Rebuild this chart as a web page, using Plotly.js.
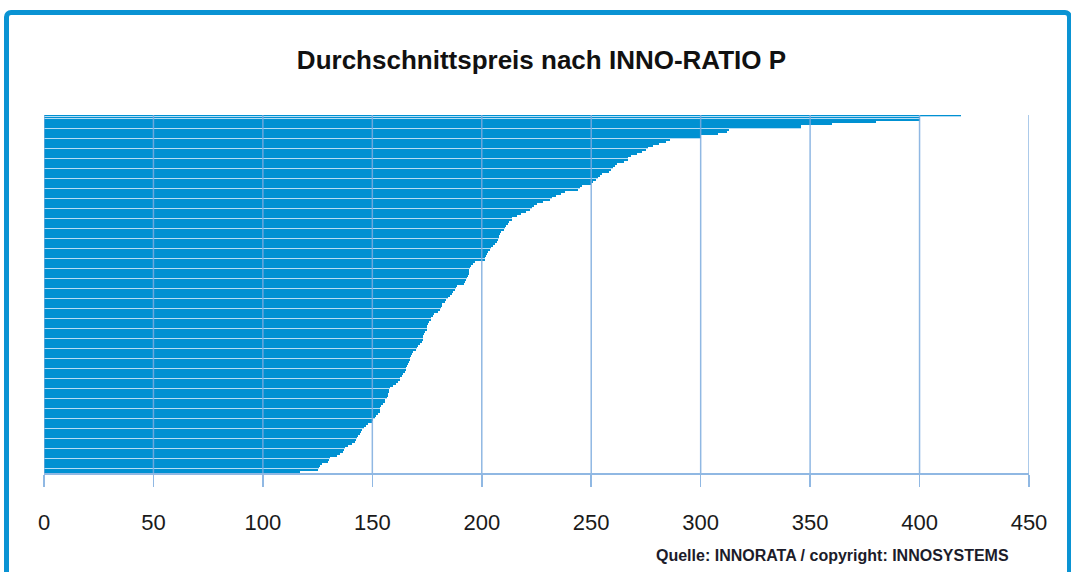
<!DOCTYPE html>
<html>
<head>
<meta charset="utf-8">
<script src="https://cdn.plot.ly/plotly-3.0.1.min.js"></script>
<style>
  html, body { margin: 0; padding: 0; background: #ffffff; overflow: hidden; }
  #chart { width: 1071px; height: 572px; position: absolute; left: 0; top: 0; }
  #frame { position: absolute; left: 4px; top: 10px; width: 1068px; height: 700px;
           box-sizing: border-box; border: 5px solid #0a93d3; border-radius: 7px;
           pointer-events: none; }
</style>
</head>
<body>
<div id="chart"></div>
<div id="frame"></div>
<script>
// Average price per product, sorted by INNO-RATIO P (top to bottom)
const prices = [
  419, 400, 400, 380, 360, 346, 346,
  313, 312, 308, 300, 300,
  286, 284, 281, 278, 276,
  275, 273, 271, 268, 267,
  267, 265, 262, 261, 260,
  259, 258, 255, 254, 253,
  252, 251, 250, 246, 245,
  244, 238, 236, 234, 232,
  231, 228, 225, 224, 223,
  222, 220, 218, 216, 214,
  213.6, 212.6, 212, 211, 210.6,
  210, 209, 208.5, 208, 207.8,
  207.5, 206.8, 206, 205, 204,
  203.7, 203, 202.5, 202, 201.6,
  201.5, 197, 196, 195, 194.5,
  194.3, 194, 194, 193.8, 193.2,
  193, 192.5, 192, 188.5, 188,
  187.8, 187, 186.5, 185.5, 184.5,
  183.5, 183, 182, 181.7, 181.5,
  181, 180, 178, 177.6, 177,
  176.6, 176, 175.5, 175, 174.8,
  174.8, 174, 173.5, 173, 173,
  173, 172.5, 171.8, 171, 170.5,
  170, 168.4, 168, 167.5, 167,
  167, 166.8, 166.5, 165.7, 165.5,
  165.4, 165, 164, 163.5, 162.6,
  162.5, 161.8, 161, 159.6, 158,
  157.8, 157.6, 157, 157, 156.5,
  156, 155.8, 155, 154, 153.5,
  153.5, 153.3, 152.7, 151.7, 151,
  150.5, 149.7, 148.2, 147, 146,
  145.5, 145, 144.4, 143.6, 143,
  142.5, 142, 140.6, 139, 137.5,
  137, 136.7, 135, 133.7, 130.6,
  130, 129.8, 126.8, 126, 125.5,
  125, 117
];
const ranks = prices.map((v, i) => 'Rang ' + (i + 1));
const tickValues = [0, 50, 100, 150, 200, 250, 300, 350, 400, 450];
const titleText = 'Durchschnittspreis nach INNO-RATIO P';
const sourceText = 'Quelle: INNORATA / copyright: INNOSYSTEMS';

const barColor = 'rgb(0,145,210)';
const stripeColor = 'rgb(180,220,244)';
const gridColor = 'rgba(125,172,222,0.85)';

// bars that leave a thin light seam beneath them (rendering pattern of the original)
const isSeam = (i) => i === 0 || i % 5 === 1;
const widths = prices.map((v, i) => isSeam(i) ? 0.5 : 1);
const offsets = prices.map(() => -0.5);

const traces = [
  {
    type: 'bar', orientation: 'h', x: prices, y: ranks,
    marker: { color: stripeColor, line: { width: 0 } },
    width: prices.map(() => 1), hoverinfo: 'skip', showlegend: false
  },
  {
    type: 'bar', orientation: 'h', x: prices, y: ranks,
    marker: { color: barColor, line: { width: 0 } },
    width: widths, offset: offsets, showlegend: false
  }
];

const shapes = tickValues.map(v => ({
  type: 'line', xref: 'x', yref: 'paper', x0: v, x1: v, y0: 0, y1: 1,
  line: { color: gridColor, width: 1.5 }, layer: 'above'
}));

const layout = {
  width: 1071, height: 572,
  margin: { l: 44, r: 42, t: 115, b: 99, pad: 0 },
  paper_bgcolor: 'rgba(0,0,0,0)', plot_bgcolor: '#ffffff',
  barmode: 'overlay', bargap: 0,
  showlegend: false,
  title: {
    text: titleText, xref: 'container', yref: 'container',
    x: 0.5056, y: 0.895, xanchor: 'center', yanchor: 'middle',
    font: { family: 'Liberation Sans, Arial, sans-serif', size: 26, weight: 'bold', color: '#111111' }
  },
  xaxis: {
    range: [0, 450], tickvals: tickValues, ticktext: tickValues.map(String),
    showgrid: false, zeroline: false,
    showline: true, linecolor: gridColor, linewidth: 1.5,
    ticks: 'outside', ticklen: 12, tickwidth: 1.5, tickcolor: gridColor,
    ticklabelstandoff: 17,
    tickfont: { family: 'Liberation Sans, Arial, sans-serif', size: 22, color: '#1a1a1a' }
  },
  yaxis: {
    type: 'category', autorange: 'reversed',
    showticklabels: false, showgrid: false, zeroline: false, showline: false, ticks: ''
  },
  shapes: shapes,
  annotations: [{
    text: sourceText, xref: 'paper', yref: 'paper',
    x: 0.801, y: -0.2318, xanchor: 'center', yanchor: 'middle', showarrow: false,
    font: { family: 'Liberation Sans, Arial, sans-serif', size: 16, weight: 'bold', color: '#1c1c2a' }
  }]
};

Plotly.newPlot('chart', traces, layout, { displayModeBar: false, staticPlot: true });
</script>
</body>
</html>
